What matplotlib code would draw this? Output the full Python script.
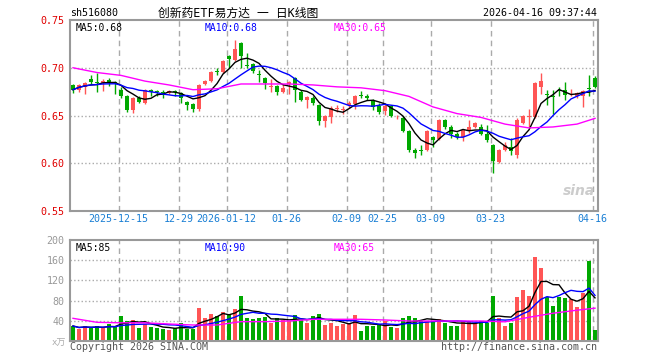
# sh516080 daily K-line with volume, Sina finance style

import matplotlib
matplotlib.use('Agg')
import matplotlib.pyplot as plt
import numpy as np
import pandas as pd

# ---------- DATA ----------
opens = [0.682, 0.677, 0.680, 0.688, 0.685, 0.684, 0.687, 0.685, 0.677, 0.670,
         0.656, 0.668, 0.663, 0.677, 0.676, 0.675, 0.674, 0.676, 0.674, 0.664,
         0.662, 0.657, 0.683, 0.686, 0.697, 0.696, 0.712, 0.708, 0.726, 0.703,
         0.704, 0.693, 0.689, 0.680, 0.681, 0.675, 0.683, 0.689, 0.675, 0.666,
         0.668, 0.661, 0.644, 0.648, 0.657, 0.656, 0.661, 0.662, 0.671, 0.670,
         0.665, 0.660, 0.655, 0.660, 0.649, 0.647, 0.634, 0.614, 0.614, 0.614,
         0.628, 0.625, 0.645, 0.638, 0.631, 0.628, 0.634, 0.638, 0.638, 0.631,
         0.619, 0.601, 0.614, 0.617, 0.609, 0.642, 0.648, 0.648, 0.680, 0.672,
         0.670, 0.677, 0.677, 0.672, 0.670, 0.670, 0.679, 0.689]
closes = [0.677, 0.682, 0.684, 0.685, 0.684, 0.686, 0.684, 0.684, 0.670, 0.656,
          0.668, 0.664, 0.677, 0.675, 0.675, 0.671, 0.676, 0.675, 0.668, 0.661,
          0.657, 0.682, 0.686, 0.696, 0.696, 0.707, 0.709, 0.720, 0.712, 0.702,
          0.697, 0.692, 0.684, 0.681, 0.675, 0.679, 0.685, 0.677, 0.666, 0.669,
          0.663, 0.644, 0.650, 0.658, 0.658, 0.657, 0.663, 0.670, 0.670, 0.668,
          0.659, 0.654, 0.660, 0.649, 0.650, 0.634, 0.614, 0.611, 0.613, 0.634,
          0.624, 0.645, 0.638, 0.631, 0.628, 0.635, 0.638, 0.642, 0.631, 0.624,
          0.602, 0.614, 0.619, 0.613, 0.645, 0.649, 0.649, 0.684, 0.686, 0.671,
          0.669, 0.676, 0.671, 0.673, 0.674, 0.676, 0.678, 0.680]
highs = [0.683, 0.683, 0.685, 0.692, 0.694, 0.688, 0.689, 0.686, 0.680, 0.671,
         0.669, 0.670, 0.678, 0.678, 0.677, 0.677, 0.677, 0.677, 0.675, 0.665,
         0.663, 0.683, 0.687, 0.697, 0.700, 0.708, 0.713, 0.729, 0.727, 0.715,
         0.705, 0.698, 0.690, 0.688, 0.682, 0.683, 0.686, 0.690, 0.677, 0.670,
         0.670, 0.662, 0.651, 0.660, 0.661, 0.660, 0.665, 0.671, 0.676, 0.673,
         0.667, 0.663, 0.663, 0.661, 0.651, 0.649, 0.635, 0.616, 0.619, 0.635,
         0.629, 0.646, 0.646, 0.640, 0.633, 0.636, 0.645, 0.643, 0.641, 0.640,
         0.620, 0.615, 0.622, 0.626, 0.647, 0.651, 0.657, 0.685, 0.694, 0.677,
         0.677, 0.680, 0.685, 0.678, 0.675, 0.677, 0.692, 0.691]
lows = [0.674, 0.675, 0.673, 0.683, 0.675, 0.676, 0.681, 0.673, 0.668, 0.654,
        0.653, 0.663, 0.662, 0.670, 0.670, 0.668, 0.672, 0.670, 0.663, 0.656,
        0.654, 0.655, 0.682, 0.685, 0.692, 0.695, 0.700, 0.707, 0.700, 0.700,
        0.694, 0.685, 0.678, 0.675, 0.671, 0.674, 0.672, 0.664, 0.665, 0.658,
        0.661, 0.640, 0.638, 0.642, 0.654, 0.652, 0.658, 0.657, 0.668, 0.666,
        0.656, 0.652, 0.651, 0.648, 0.646, 0.633, 0.612, 0.605, 0.609, 0.613,
        0.617, 0.624, 0.636, 0.626, 0.625, 0.623, 0.632, 0.637, 0.630, 0.622,
        0.590, 0.600, 0.613, 0.609, 0.605, 0.641, 0.638, 0.647, 0.672, 0.661,
        0.652, 0.670, 0.666, 0.670, 0.668, 0.659, 0.670, 0.679]
volumes = [29.7, 23.8, 29.7, 25.1, 29.7, 26.4, 33.0, 28.4, 50.2, 40.3,
           41.6, 26.4, 33.0, 28.4, 26.4, 23.8, 21.8, 25.1, 36.3, 23.8,
           23.8, 66.0, 46.2, 53.5, 50.2, 56.8, 52.8, 63.4, 89.8, 46.2,
           43.6, 46.2, 46.9, 36.3, 44.9, 41.6, 39.6, 51.5, 41.6, 36.3,
           50.2, 52.8, 32.4, 36.3, 30.4, 33.7, 36.3, 51.5, 19.8, 29.7,
           29.7, 33.0, 39.6, 27.1, 25.1, 44.9, 49.5, 44.9, 40.3, 40.3,
           39.6, 42.9, 36.3, 29.7, 29.7, 38.3, 39.6, 36.3, 39.6, 36.3,
           89.8, 44.9, 29.7, 36.3, 87.8, 101.0, 89.1, 166.3, 145.2, 88.0,
           70.0, 87.0, 85.8, 83.2, 68.0, 95.0, 159.0, 21.8]

# MA30 curves (they need history before the window)
ma30_idx = [0, 4, 8, 12, 16, 20, 24, 28, 32, 36, 40, 44, 48, 52, 56, 60,
            64, 68, 72, 76, 80, 84, 87]
ma30_price = [0.700, 0.695, 0.692, 0.686, 0.682, 0.677, 0.678, 0.683, 0.683,
              0.683, 0.682, 0.680, 0.679, 0.676, 0.670, 0.659, 0.652, 0.648,
              0.641, 0.637, 0.638, 0.641, 0.647]
ma30_vol = [44.9, 37.0, 36.0, 36.0, 33.7, 31.7, 31.7, 38.3, 38.3, 39.6, 42.9,
            43.0, 43.0, 41.6, 39.6, 39.6, 39.6, 39.6, 38.0, 47.0, 55.0, 61.0, 65.0]

date_idx = [8, 18, 26, 36, 46, 52, 60, 70, 87]
date_labels = ['2025-12-15', '12-29', '2026-01-12', '01-26', '02-09',
               '02-25', '03-09', '03-23', '04-16']

price_ticks = [0.55, 0.60, 0.65, 0.70, 0.75]
vol_ticks = [40, 80, 120, 160, 200]

# ---------- PREP ----------
o = np.array(opens)
c = np.array(closes)
h = np.array(highs)
l = np.array(lows)
v = np.array(volumes)
x = np.arange(len(o))
up = c >= o

RED = '#ff5555'
GREEN = '#00a800'
GRID = '#aaaaaa'
cols = np.where(up, RED, GREEN)

ma5 = pd.Series(c).rolling(5, min_periods=1).mean()
ma10 = pd.Series(c).rolling(10, min_periods=1).mean()
vma5 = pd.Series(v).rolling(5, min_periods=1).mean()
vma10 = pd.Series(v).rolling(10, min_periods=1).mean()

MONO = ['DejaVu Sans Mono', 'Noto Sans CJK SC']
plt.rcParams['font.family'] = MONO

fig = plt.figure(figsize=(6.6, 3.6), dpi=100)
ax = fig.add_axes([70 / 660, 1 - 211 / 360, 528 / 660, 191 / 360])
axv = fig.add_axes([70 / 660, 1 - 341 / 360, 528 / 660, 101 / 360])

for a in (ax, axv):
    a.set_xlim(-0.5, 87.5)
    for s in a.spines.values():
        s.set_color('#999999')
        s.set_linewidth(1.5)
    a.tick_params(length=0, pad=4)
    a.set_xticks([])
    for d in date_idx:
        a.axvline(d - 0.4, color=GRID, lw=1, ls=(0, (4, 3)), zorder=0)

# ---------- PRICE PANEL ----------
ax.set_ylim(0.55, 0.75)
for yv in price_ticks[1:-1]:
    ax.axhline(yv, color=GRID, lw=1, ls=':', zorder=0)
ax.vlines(x, l, h, color=cols, lw=1, zorder=2)
body = np.maximum(np.abs(c - o), 0.0007)
ax.bar(x, body, bottom=np.minimum(o, c), width=0.8, color=cols, zorder=3)
ax.plot(x, ma5, color='black', lw=1, zorder=4)
ax.plot(x, ma10, color='#0000ff', lw=1, zorder=4)
ax.plot(ma30_idx, ma30_price, color='#ff00ff', lw=1, zorder=4)
ax.set_yticks(price_ticks)
ax.set_yticklabels(['%.2f' % t for t in price_ticks], color='#e00000', fontsize=7.2)

for d, lab in zip(date_idx, date_labels):
    ax.text(d - 0.4, 0.5465, lab, color='#1a7fd4', fontsize=7.2,
            ha='center', va='top')

ax.text(0.01, 0.985, 'MA5:%.2f' % ma5.iloc[-1], transform=ax.transAxes,
        fontsize=7, color='black', va='top')
ax.text(0.255, 0.985, 'MA10:%.2f' % ma10.iloc[-1], transform=ax.transAxes,
        fontsize=7, color='#0000ff', va='top')
ax.text(0.50, 0.985, 'MA30:%.2f' % ma30_price[-1], transform=ax.transAxes,
        fontsize=7, color='#ff00ff', va='top')
ax.text(0.995, 0.07, 'sina', transform=ax.transAxes, fontsize=10,
        color='#cccccc', ha='right', va='bottom', style='italic',
        weight='bold', family='DejaVu Sans')

# ---------- VOLUME PANEL ----------
axv.set_ylim(0, 200)
for yv in vol_ticks[:-1]:
    axv.axhline(yv, color=GRID, lw=1, ls=':', zorder=0)
axv.bar(x, v, width=0.8, color=cols, zorder=2)
axv.plot(x, vma5, color='black', lw=1, zorder=4)
axv.plot(x, vma10, color='#0000ff', lw=1, zorder=4)
axv.plot(ma30_idx, ma30_vol, color='#ff00ff', lw=1, zorder=4)
axv.set_yticks(vol_ticks)
axv.set_yticklabels([str(t) for t in vol_ticks], color='#999999', fontsize=7.2)
axv.text(-0.008, -0.02, 'x万', transform=axv.transAxes, fontsize=6.5,
         color='#aaaaaa', ha='right', va='center')

axv.text(0.01, 0.97, 'MA5:%d' % round(vma5.iloc[-1]), transform=axv.transAxes,
         fontsize=7, color='black', va='top')
axv.text(0.255, 0.97, 'MA10:%d' % round(vma10.iloc[-1]), transform=axv.transAxes,
         fontsize=7, color='#0000ff', va='top')
axv.text(0.50, 0.97, 'MA30:%d' % round(ma30_vol[-1]), transform=axv.transAxes,
         fontsize=7, color='#ff00ff', va='top')

# ---------- HEADER / FOOTER ----------
fig.text(70 / 660, 1 - 13 / 360, 'sh516080', fontsize=7.2, va='center')
fig.text(238 / 660, 1 - 13 / 360, '创新药ETF易方达 一 日K线图', fontsize=8.5,
         ha='center', va='center')
fig.text(597 / 660, 1 - 13 / 360, '2026-04-16 09:37:44', fontsize=7.2,
         ha='right', va='center')
fig.text(70 / 660, 1 - 347 / 360, 'Copyright 2026 SINA.COM', fontsize=7.2,
         color='#555555', va='center')
fig.text(597 / 660, 1 - 347 / 360, 'http://finance.sina.com.cn', fontsize=7.2,
         color='#555555', ha='right', va='center')

fig.savefig('out.png', dpi=100)
